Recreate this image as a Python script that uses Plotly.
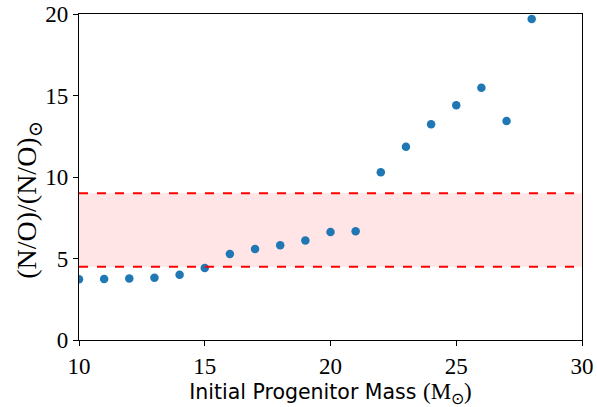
import plotly.graph_objects as go

masses = [10, 11, 12, 13, 14, 15, 16, 17, 18, 19, 20, 21, 22, 23, 24, 25, 26, 27, 28]
no_ratio = [3.72, 3.74, 3.78, 3.82, 4.01, 4.42, 5.28, 5.58, 5.81, 6.11, 6.63, 6.67,
            10.29, 11.86, 13.23, 14.4, 15.48, 13.44, 19.69]
band_low = 4.5
band_high = 9.0
x_range = [10, 30]
y_range = [0, 20]
x_ticks = [10, 15, 20, 25, 30]
y_ticks = [0, 5, 10, 15, 20]

serif = "Liberation Serif, DejaVu Serif, serif"
sans = "DejaVu Sans, sans-serif"

fig = go.Figure()
fig.add_shape(type="rect", xref="x", yref="y", x0=x_range[0], x1=x_range[1],
              y0=band_low, y1=band_high, fillcolor="rgba(255,0,0,0.1)",
              line=dict(width=0), layer="below")
for yv in (band_low, band_high):
    fig.add_shape(type="line", xref="x", yref="y", x0=x_range[0], x1=x_range[1],
                  y0=yv, y1=yv, line=dict(color="red", width=2, dash="dash"))
fig.add_trace(go.Scatter(x=masses, y=no_ratio, mode="markers",
                         marker=dict(color="#1f77b4", size=8.5), showlegend=False))

axis_common = dict(showgrid=False, zeroline=False, showline=True, linecolor="black",
                   linewidth=1.2, mirror=True, ticks="outside", ticklen=5,
                   tickcolor="black", automargin=False, ticklabeloverflow="allow",
                   tickfont=dict(family=serif, size=23, color="black"))
fig.update_xaxes(range=x_range, tickvals=x_ticks, **axis_common,
                 title=dict(text="Initial Progenitor Mass <span style='font-family:Liberation Serif;font-size:23px'>(M<sub>⊙</sub>)</span>",
                            font=dict(family=sans, size=20.5, color="black"), standoff=0))
fig.update_yaxes(range=y_range, tickvals=y_ticks, **axis_common)
fig.add_annotation(text="(N/O)/(N/O)<sub>⊙</sub>", xref="paper", yref="paper",
                   x=0, y=0.43, xanchor="center", yanchor="middle", xshift=-50,
                   textangle=-90, showarrow=False,
                   font=dict(family=serif, size=28, color="black"))
fig.update_layout(width=597, height=407, plot_bgcolor="white", paper_bgcolor="white",
                  margin=dict(l=79, r=15, t=14, b=67))
fig.write_html("out.html", config={"displayModeBar": False},
               post_script="document.body.style.margin='0';")
